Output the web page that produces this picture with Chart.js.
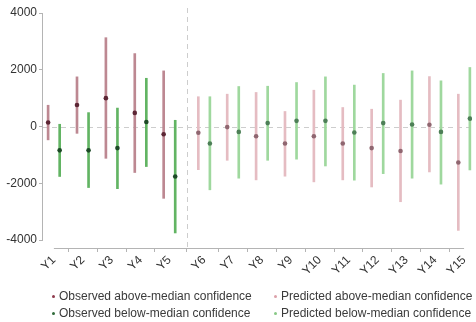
<!DOCTYPE html>
<html lang="en">
<head>
<meta charset="utf-8">
<title>Confidence</title>
<script src="https://cdn.jsdelivr.net/npm/chart.js@4.4.1/dist/chart.umd.min.js"></script>
<style>
  html, body { margin: 0; padding: 0; background: #fff; }
  #container { position: relative; width: 476px; height: 322px; }
  #grafico { display: block; }
  #legenda {
    position: absolute; left: 52px; top: 290px;
    display: grid; grid-template-columns: 222px auto; row-gap: 5px;
    font: 12px "Liberation Sans", Arial, sans-serif; color: #3a3a3a;
  }
  .item { display: flex; align-items: center; white-space: nowrap; line-height: 12px; }
  .bolinha { width: 3px; height: 3px; border-radius: 50%; margin-right: 4px; }
</style>
</head>
<body>
<div id="container">
  <canvas id="grafico"></canvas>
  <div id="legenda"></div>
</div>
<script>
// Dados
const categorias = ['Y1', 'Y2', 'Y3', 'Y4', 'Y5', 'Y6', 'Y7', 'Y8', 'Y9', 'Y10', 'Y11', 'Y12', 'Y13', 'Y14', 'Y15'];
const qtdObservados = 5; // Y1..Y5 observados, o resto é previsto

// Acima da mediana: estimativa pontual e intervalo
const acimaMedia = [140, 760, 1000, 480, -270, -220, -20, -340, -600, -340, -600, -760, -860, 60, -1270];
const acimaInf = [-470, -240, -1120, -1620, -2530, -1520, -1190, -1880, -1750, -1950, -1880, -2130, -2650, -1600, -3660];
const acimaSup = [750, 1750, 3130, 2570, 1960, 1050, 1140, 1200, 530, 1280, 670, 610, 930, 1760, 1140];

// Abaixo da mediana
const abaixoMedia = [-840, -840, -760, 160, -1760, -600, -190, 120, 200, 200, -210, 120, 70, -190, 280];
const abaixoInf = [-1760, -2150, -2190, -1410, -3750, -2230, -1820, -1190, -1150, -1390, -1890, -1660, -1820, -2030, -1530];
const abaixoSup = [80, 490, 650, 1700, 220, 1050, 1410, 1420, 1550, 1750, 1460, 1870, 1960, 1610, 2080];

const ticksY = [-4000, -2000, 0, 2000, 4000];

// Posição de cada categoria no eixo x (pequeno espaço extra depois de Y5)
const posicoes = categorias.map((c, i) => i + 1 + (i >= qtdObservados ? 0.2 : 0));
const DESLOC = 0.2;
const SEPARADOR = (posicoes[qtdObservados - 1] + posicoes[qtdObservados]) / 2;

const grupos = [
    { label: 'Observed above-median confidence', media: acimaMedia, inf: acimaInf, sup: acimaSup, obs: true, lado: -1,
      barra: '#bd8892', ponto: '#5c2634', legenda: '#8e3a4c' },
    { label: 'Predicted above-median confidence', media: acimaMedia, inf: acimaInf, sup: acimaSup, obs: false, lado: -1,
      barra: '#e5bcc2', ponto: '#8f6670', legenda: '#dca0a9' },
    { label: 'Observed below-median confidence', media: abaixoMedia, inf: abaixoInf, sup: abaixoSup, obs: true, lado: 1,
      barra: '#62b463', ponto: '#1d4a27', legenda: '#2f6b3a' },
    { label: 'Predicted below-median confidence', media: abaixoMedia, inf: abaixoInf, sup: abaixoSup, obs: false, lado: 1,
      barra: '#9fd89e', ponto: '#4d7f57', legenda: '#88c886' }
];

/**
 * Monta os datasets: uma barra flutuante fina (intervalo) e um ponto (estimativa) por grupo.
 */
function montarDatasets() {
    const datasets = [];
    grupos.forEach(g => {
        const idx = categorias.map((c, i) => i).filter(i => g.obs ? i < qtdObservados : i >= qtdObservados);
        datasets.push({
            type: 'bar',
            label: g.label + ' (interval)',
            data: idx.map(i => ({ x: posicoes[i] + g.lado * DESLOC, y: [g.inf[i], g.sup[i]] })),
            backgroundColor: g.barra,
            borderWidth: 0,
            barThickness: 2,
            grouped: false,
            order: 1
        });
        datasets.push({
            type: 'scatter',
            label: g.label,
            data: idx.map(i => ({ x: posicoes[i] + g.lado * DESLOC, y: g.media[i] })),
            backgroundColor: g.ponto,
            borderWidth: 0,
            pointRadius: 2.3,
            order: 0
        });
    });
    return datasets;
}

// Linhas tracejadas de referência e eixos "soltos"
const guias = {
    id: 'guias',
    beforeDatasetsDraw(chart) {
        const { ctx, chartArea, scales: { x, y } } = chart;
        ctx.save();
        ctx.lineWidth = 1;
        ctx.strokeStyle = '#cdcdcd';
        ctx.setLineDash([5, 4]);
        const y0 = Math.round(y.getPixelForValue(0)) + 0.5;
        ctx.beginPath();
        ctx.moveTo(chartArea.left, y0);
        ctx.lineTo(chartArea.right, y0);
        ctx.stroke();
        const xs = Math.round(x.getPixelForValue(SEPARADOR)) + 0.5;
        ctx.beginPath();
        ctx.moveTo(xs, chartArea.top - 5);
        ctx.lineTo(xs, chartArea.bottom);
        ctx.stroke();

        ctx.setLineDash([]);
        ctx.strokeStyle = '#b4b4b4';
        const xl = Math.round(chartArea.left) - 0.5;
        ctx.beginPath();
        ctx.moveTo(xl, y.getPixelForValue(ticksY[ticksY.length - 1]));
        ctx.lineTo(xl, y.getPixelForValue(ticksY[0]));
        ctx.stroke();
        const yb = Math.round(chartArea.bottom) + 0.5;
        ctx.beginPath();
        ctx.moveTo(x.getPixelForValue(posicoes[0]), yb);
        ctx.lineTo(x.getPixelForValue(posicoes[posicoes.length - 1]), yb);
        ctx.stroke();
        ctx.restore();
    }
};

function initGrafico() {
    const ctx = document.getElementById('grafico').getContext('2d');
    return new Chart(ctx, {
        type: 'bar',
        data: { datasets: montarDatasets() },
        options: {
            responsive: true,
            maintainAspectRatio: false,
            animation: false,
            layout: { padding: { left: 0, right: 0, top: 13, bottom: 44 } },
            plugins: {
                legend: { display: false },
                tooltip: { enabled: false }
            },
            scales: {
                x: {
                    type: 'linear',
                    offset: false,
                    min: 0.623,
                    max: 15.474,
                    afterBuildTicks: scale => { scale.ticks = posicoes.map(v => ({ value: v })); },
                    afterFit: scale => {
                        scale.height = 30;
                        // o rótulo rotacionado de Y15 não precisa de folga à direita
                        scale.paddingRight = 0;
                        scale.paddingLeft = 0;
                    },
                    border: { display: false },
                    grid: { drawOnChartArea: false, drawTicks: true, tickLength: 4, color: '#b4b4b4' },
                    ticks: {
                        autoSkip: false,
                        minRotation: 45,
                        maxRotation: 45,
                        padding: 1,
                        color: '#333',
                        font: { family: '"Liberation Sans", Arial, sans-serif', size: 12 },
                        callback: (value, index) => categorias[index]
                    }
                },
                y: {
                    min: -4280,
                    max: 4000,
                    afterBuildTicks: scale => { scale.ticks = ticksY.map(v => ({ value: v })); },
                    afterFit: scale => { scale.width = 43; },
                    border: { display: false },
                    grid: { drawOnChartArea: false, drawTicks: true, tickLength: 4, color: '#b4b4b4' },
                    ticks: {
                        padding: 2,
                        color: '#333',
                        font: { family: '"Liberation Sans", Arial, sans-serif', size: 12 },
                        callback: value => String(value)
                    }
                }
            }
        },
        plugins: [guias]
    });
}

/**
 * Legenda em HTML (duas colunas, como no original).
 */
function montarLegenda() {
    const el = document.getElementById('legenda');
    // ordem: linha 1 = acima da mediana, linha 2 = abaixo
    grupos.forEach(g => {
        const item = document.createElement('div');
        item.className = 'item';
        item.innerHTML = `<span class="bolinha" style="background:${g.legenda}"></span><span>${g.label}</span>`;
        el.appendChild(item);
    });
}

initGrafico();
montarLegenda();
</script>
</body>
</html>
